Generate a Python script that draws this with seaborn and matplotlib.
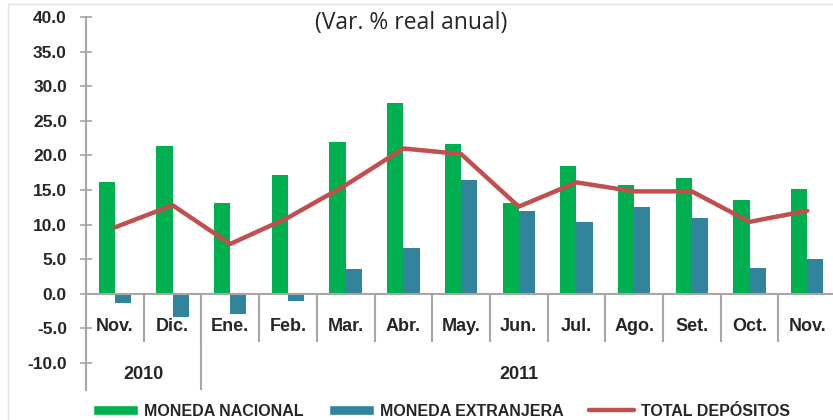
import matplotlib
matplotlib.use("Agg")
import matplotlib.pyplot as plt
import numpy as np
import pandas as pd
import seaborn as sns
from matplotlib.patches import Patch, Rectangle
from matplotlib.lines import Line2D

# depositos del sistema financiero, var. % real anual
periodos = ['2010-11', '2010-12', '2011-01', '2011-02', '2011-03', '2011-04', '2011-05',
            '2011-06', '2011-07', '2011-08', '2011-09', '2011-10', '2011-11']
meses = ['Nov.', 'Dic.', 'Ene.', 'Feb.', 'Mar.', 'Abr.', 'May.',
         'Jun.', 'Jul.', 'Ago.', 'Set.', 'Oct.', 'Nov.']
moneda_nacional = [16.2, 21.4, 13.1, 17.2, 22.0, 27.6, 21.7, 13.1, 18.4, 15.7, 16.7, 13.6, 15.1]
moneda_extranjera = [-1.4, -3.4, -2.9, -1.0, 3.6, 6.6, 16.4, 12.0, 10.4, 12.5, 11.0, 3.8, 5.1]
total_depositos = [9.6, 12.8, 7.2, 11.0, 15.7, 21.0, 20.2, 12.6, 16.1, 14.8, 14.8, 10.4, 12.0]
series = ['MONEDA NACIONAL', 'MONEDA EXTRANJERA', 'TOTAL DEPÓSITOS']
anios = ['2010', '2011']

verde = '#00B050'
azul = '#31849B'
rojo = '#C0504D'
gris = '#A6A6A6'

sns.set_style('white')
plt.rcParams['font.family'] = ['Liberation Sans', 'DejaVu Sans']

df = pd.DataFrame({'periodo': periodos * 2,
                   'valor': moneda_nacional + moneda_extranjera,
                   'serie': [series[0]] * len(periodos) + [series[1]] * len(periodos)})

fig = plt.figure(figsize=(8.33, 4.2), dpi=100)
ymin, ymax = -13.9, 40.0
ax = fig.add_axes([86 / 833, 30 / 420, 13 * 57.7 / 833, 373 / 420])

sns.barplot(data=df, x='periodo', y='valor', hue='serie', order=periodos,
            palette=[verde, azul], width=0.56, saturation=1, linewidth=0,
            legend=False, ax=ax)
sns.pointplot(x=periodos, y=total_depositos, order=periodos, color=rojo,
              markers='', linestyles='-', errorbar=None, linewidth=3.2, ax=ax)

ax.set_xlim(-0.5, 12.5)
ax.set_ylim(ymin, ymax)
ax.set_xlabel('')
ax.set_ylabel('')

# y axis
ax.set_yticks(np.arange(-10, 45, 5))
ax.set_yticklabels([f'{v:.1f}' for v in np.arange(-10, 45, 5)])
ax.tick_params(axis='y', left=True, direction='inout', length=8.6, width=1.2, color=gris,
               pad=9.4, labelsize=12.5)
for t in ax.get_yticklabels():
    t.set_fontweight('bold')

# x axis at zero, month labels between separators
ax.spines['bottom'].set_position(('data', 0))
ax.spines['top'].set_visible(False)
ax.spines['right'].set_visible(False)
for s in ['left', 'bottom']:
    ax.spines[s].set_color(gris)
    ax.spines[s].set_linewidth(1.5)
ax.set_xticks(range(len(meses)))
ax.set_xticklabels(meses)
ax.set_xticks(np.arange(0.5, 12, 1), minor=True)
ax.tick_params(axis='x', which='major', bottom=True, length=0, pad=17.5, labelsize=13)
ax.tick_params(axis='x', which='minor', bottom=True, direction='out', length=34.5,
               width=1.5, color=gris)
for t in ax.get_xticklabels():
    t.set_fontweight('bold')

# separator between years
ax.axvline(1.5, ymin=0, ymax=(0 - ymin) / (ymax - ymin), color=gris, lw=1.5)
ax.text(0.5, -11.7, anios[0], ha='center', va='center', fontsize=13, fontweight='bold')
ax.text(7, -11.7, anios[1], ha='center', va='center', fontsize=13, fontweight='bold')

fig.text(411 / 833, 1 - 23 / 420, '(Var. % real anual)', ha='center', va='center',
         family=['Open Sans', 'DejaVu Sans'], fontsize=16.5)

# chart frame
fig.patches.append(Rectangle((8 / 833, -0.1), 1.2, 1.1 - 4 / 420, transform=fig.transFigure,
                             fill=False, edgecolor='#E0E0E0', lw=1))

handles = [Patch(facecolor=verde), Patch(facecolor=azul), Line2D([], [], color=rojo, lw=3.2)]
fig.legend(handles, series, loc='center left', bbox_to_anchor=(93 / 833, 9 / 420), ncol=3,
           frameon=False, handlelength=2.8, handleheight=0.6, handletextpad=0.4,
           columnspacing=1.6, borderpad=0, borderaxespad=0,
           prop={'weight': 'bold', 'size': 11.5})

fig.savefig('out.png', dpi=100)
